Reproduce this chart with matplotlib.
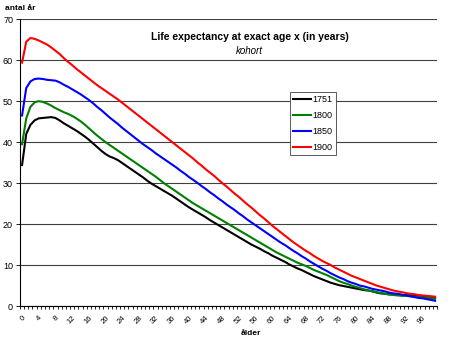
import numpy as np
import matplotlib.pyplot as plt

plt.rcParams['font.family'] = ['Liberation Sans', 'DejaVu Sans']

ages = list(range(0, 100))

# 1751
e_1751 = [34.4, 42.0, 44.2, 45.3, 45.8, 45.9, 46.0, 46.1, 45.9, 45.3,
          44.6, 44.0, 43.4, 42.8, 42.1, 41.4, 40.6, 39.7, 38.8, 37.9,
          37.1, 36.5, 36.1, 35.6, 34.9, 34.2, 33.5, 32.8, 32.1, 31.4,
          30.6, 29.9, 29.3, 28.7, 28.1, 27.5, 26.9, 26.2, 25.5, 24.8,
          24.1, 23.5, 22.9, 22.3, 21.7, 21.0, 20.4, 19.8, 19.2, 18.6,
          18.0, 17.4, 16.8, 16.2, 15.6, 15.0, 14.5, 14.0, 13.4, 12.9,
          12.3, 11.8, 11.3, 10.8, 10.2, 9.7, 9.2, 8.8, 8.3, 7.8,
          7.3, 6.9, 6.5, 6.1, 5.7, 5.4, 5.1, 4.9, 4.7, 4.5,
          4.3, 4.1, 3.9, 3.8, 3.6, 3.3, 3.1, 3.0, 2.9, 2.9,
          2.8, 2.7, 2.7, 2.6, 2.5, 2.4, 2.3, 2.2, 2.0, 1.9]

# 1800
e_1800 = [39.5, 45.8, 48.6, 49.7, 50.0, 49.8, 49.4, 48.9, 48.3, 47.8,
          47.3, 46.9, 46.4, 45.8, 45.1, 44.3, 43.4, 42.5, 41.6, 40.8,
          40.0, 39.3, 38.6, 37.9, 37.2, 36.5, 35.8, 35.1, 34.4, 33.7,
          33.0, 32.3, 31.6, 30.8, 30.0, 29.3, 28.6, 27.9, 27.2, 26.5,
          25.8, 25.1, 24.5, 23.9, 23.3, 22.7, 22.1, 21.5, 20.9, 20.3,
          19.7, 19.1, 18.5, 17.9, 17.3, 16.7, 16.1, 15.5, 14.9, 14.3,
          13.7, 13.1, 12.6, 12.1, 11.6, 11.1, 10.6, 10.2, 9.8, 9.3,
          8.8, 8.4, 8.0, 7.6, 7.1, 6.6, 6.1, 5.7, 5.4, 5.0,
          4.7, 4.4, 4.1, 3.8, 3.6, 3.4, 3.2, 3.0, 2.8, 2.7,
          2.6, 2.5, 2.5, 2.4, 2.3, 2.2, 2.1, 2.0, 1.9, 1.8]

# 1850
e_1850 = [46.5, 53.2, 54.8, 55.4, 55.5, 55.4, 55.2, 55.1, 55.0, 54.6,
          54.0, 53.5, 52.9, 52.3, 51.7, 51.0, 50.3, 49.5, 48.6, 47.8,
          46.9, 46.0, 45.2, 44.4, 43.5, 42.7, 41.9, 41.1, 40.3, 39.5,
          38.8, 38.1, 37.3, 36.6, 35.9, 35.2, 34.5, 33.8, 33.0, 32.3,
          31.5, 30.8, 30.1, 29.3, 28.6, 27.8, 27.1, 26.3, 25.6, 24.8,
          24.1, 23.4, 22.6, 21.9, 21.1, 20.4, 19.7, 19.0, 18.3, 17.6,
          16.9, 16.2, 15.5, 14.9, 14.2, 13.5, 12.9, 12.2, 11.6, 10.9,
          10.3, 9.7, 9.1, 8.6, 8.0, 7.5, 7.0, 6.6, 6.1, 5.7,
          5.4, 5.0, 4.8, 4.5, 4.2, 4.0, 3.8, 3.6, 3.3, 3.1,
          3.0, 2.8, 2.6, 2.4, 2.2, 2.0, 1.9, 1.7, 1.5, 1.3]

# 1900
e_1900 = [59.4, 64.5, 65.4, 65.2, 64.8, 64.3, 63.8, 63.1, 62.3, 61.5,
          60.5, 59.6, 58.8, 57.9, 57.1, 56.3, 55.5, 54.7, 53.9, 53.2,
          52.5, 51.8, 51.1, 50.4, 49.6, 48.8, 48.0, 47.2, 46.4, 45.6,
          44.8, 44.0, 43.2, 42.4, 41.6, 40.8, 40.0, 39.2, 38.4, 37.6,
          36.8, 36.0, 35.1, 34.3, 33.4, 32.6, 31.8, 30.9, 30.0, 29.2,
          28.3, 27.4, 26.6, 25.7, 24.8, 24.0, 23.1, 22.2, 21.4, 20.5,
          19.6, 18.8, 18.0, 17.2, 16.4, 15.6, 14.9, 14.2, 13.5, 12.9,
          12.2, 11.6, 11.0, 10.5, 10.0, 9.4, 8.9, 8.4, 7.9, 7.4,
          7.0, 6.6, 6.2, 5.8, 5.4, 5.0, 4.7, 4.4, 4.1, 3.8,
          3.6, 3.4, 3.2, 3.0, 2.9, 2.7, 2.6, 2.5, 2.4, 2.3]

series = ['1751', '1800', '1850', '1900']
colors = ['black', '#008000', '#0000ff', '#ff0000']

fig = plt.figure(figsize=(4.5, 3.42), dpi=100)
ax = fig.add_axes([0.0444, 0.105, 0.927, 0.839])

for name, vals, c in zip(series, [e_1751, e_1800, e_1850, e_1900], colors):
    ax.plot(ages, vals, color=c, lw=1.5, label=name)

ax.set_xlim(-0.5, 99.5)
ax.set_ylim(0, 70)
ax.set_yticks(range(0, 71, 10))
ax.yaxis.grid(True, color='#404040', lw=0.8)
ax.set_axisbelow(True)

ax.set_xticks(np.arange(-0.5, 100, 1), minor=True)
ax.set_xticks(ages[::4])
ax.set_xticklabels([str(a) for a in ages[::4]], rotation=45, ha='right',
                   rotation_mode='anchor', fontsize=5.5)
ax.tick_params(axis='x', which='major', length=0, pad=6)
ax.tick_params(axis='x', which='minor', length=2.5, width=0.6)
ax.tick_params(axis='y', length=3, width=0.6, labelsize=6.5, pad=2)

ax.spines['top'].set_visible(False)
ax.spines['right'].set_visible(False)
ax.spines['left'].set_linewidth(0.8)
ax.spines['bottom'].set_linewidth(0.8)

fig.text(0.011, 0.975, 'antal år', fontsize=6, fontweight='bold', va='center')
fig.text(0.535, 0.024, 'ålder', fontsize=6, fontweight='bold', va='center')
fig.text(0.555, 0.892, 'Life expectancy at exact age x (in years)', fontsize=7.5,
         fontweight='bold', ha='center', va='center')
fig.text(0.555, 0.851, 'kohort', fontsize=7, style='italic', ha='center', va='center')

leg = ax.legend(loc='upper left', bbox_to_anchor=(0.648, 0.745), fontsize=6.5,
                frameon=True, fancybox=False, framealpha=1, edgecolor='#404040',
                handlelength=1.9, handletextpad=0.2, borderpad=0.35,
                borderaxespad=0, labelspacing=0.75)
leg.get_frame().set_linewidth(0.6)

fig.savefig('out.png', dpi=100)
